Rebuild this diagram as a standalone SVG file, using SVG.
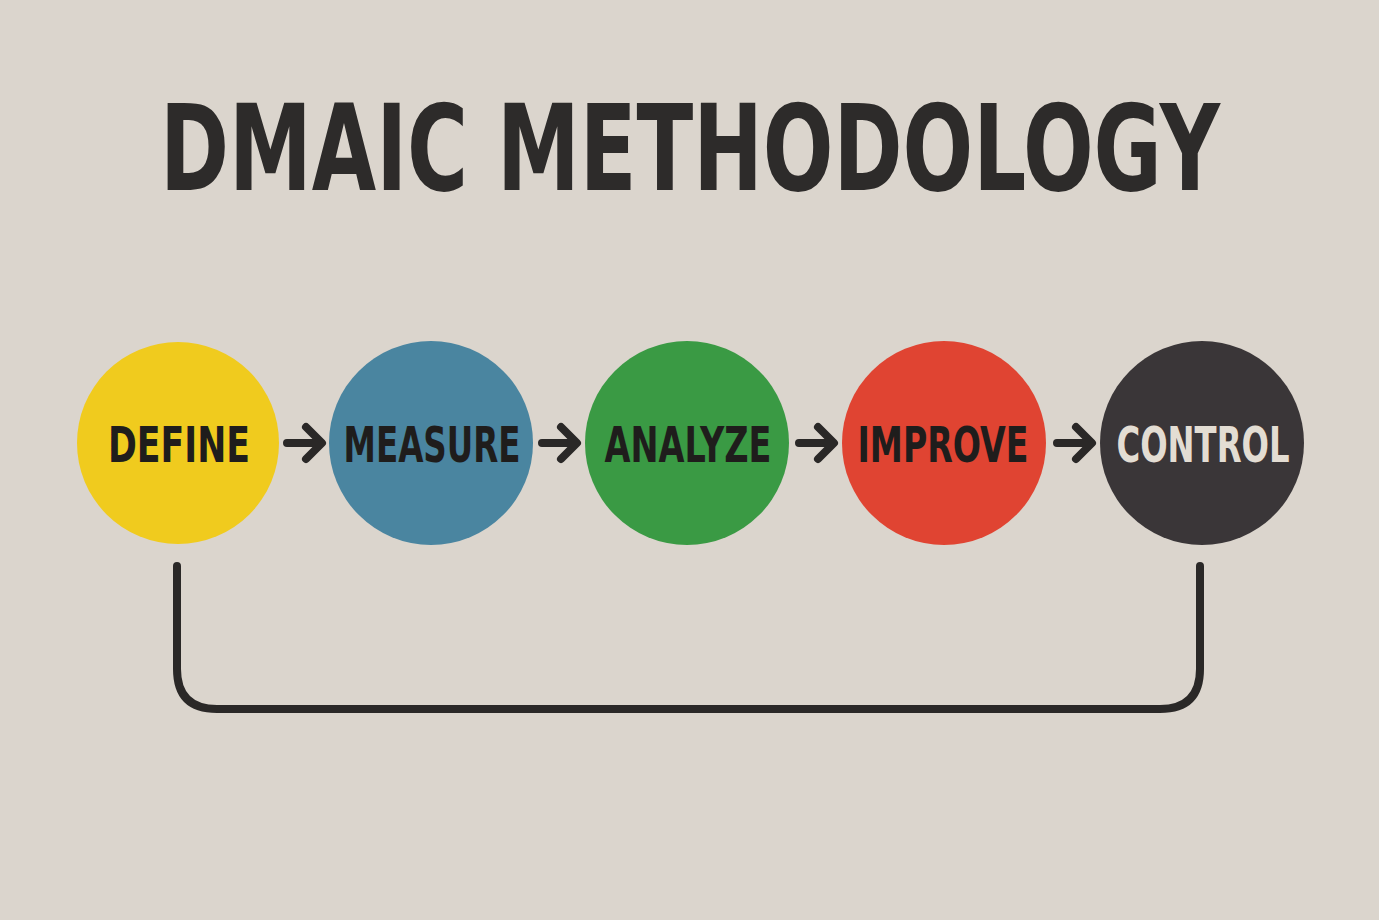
<svg xmlns="http://www.w3.org/2000/svg" width="1379" height="920" viewBox="0 0 1379 920">
<style>
.lbl{font-family:"DejaVu Sans Condensed","Liberation Sans",sans-serif;font-weight:bold;font-size:50px;text-anchor:middle;fill:#1f1d1c}
.title{font-family:"DejaVu Sans Condensed","Liberation Sans",sans-serif;font-weight:bold;font-size:120px;fill:#2d2b2a}
.conn{fill:none;stroke:#2a2827;stroke-width:8;stroke-linecap:round;stroke-linejoin:round}
</style>
<rect width="1379" height="920" fill="#dbd5cd"/>
<text class="title" x="160" y="190" textLength="1060" lengthAdjust="spacingAndGlyphs">DMAIC METHODOLOGY</text>
<g id="define"><circle cx="178" cy="443" r="101" fill="#f0cb1e"/><text class="lbl" x="179" y="462" textLength="142" lengthAdjust="spacingAndGlyphs">DEFINE</text></g>
<g id="measure"><circle cx="431" cy="443" r="102" fill="#4a85a0"/><text class="lbl" x="432" y="462" textLength="177" lengthAdjust="spacingAndGlyphs">MEASURE</text></g>
<g id="analyze"><circle cx="687" cy="443" r="102" fill="#3a9a44"/><text class="lbl" x="688" y="462" textLength="167" lengthAdjust="spacingAndGlyphs">ANALYZE</text></g>
<g id="improve"><circle cx="944" cy="443" r="102" fill="#e04432"/><text class="lbl" x="943" y="462" textLength="171" lengthAdjust="spacingAndGlyphs">IMPROVE</text></g>
<g id="control"><circle cx="1202" cy="443" r="102" fill="#3a3638"/><text class="lbl" x="1203" y="462" textLength="173" lengthAdjust="spacingAndGlyphs" style="fill:#e3ddd3">CONTROL</text></g>
<g id="connectors">
<path class="conn" d="M287 443 H321 M306 427 L322 443 L306 459"/>
<path class="conn" d="M542 443 H576 M561 427 L577 443 L561 459"/>
<path class="conn" d="M799 443 H833 M818 427 L834 443 L818 459"/>
<path class="conn" d="M1057 443 H1091 M1076 427 L1092 443 L1076 459"/>
<path class="conn" d="M177 566 V669 Q177 709 217 709 H1160 Q1200 709 1200 669 V566"/>
</g>
</svg>
